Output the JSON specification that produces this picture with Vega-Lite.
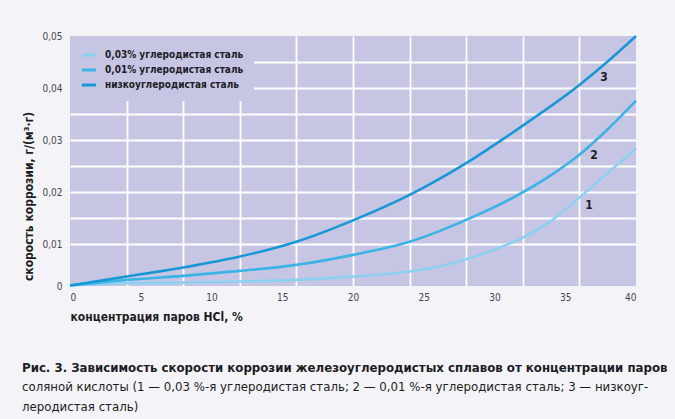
{
  "$schema": "https://vega.github.io/schema/vega-lite/v6.json",
  "autosize": "none",
  "width": 566,
  "height": 250,
  "padding": {"left": 70, "top": 36, "right": 39, "bottom": 133},
  "background": "#f4f4f8",
  "config": {
    "view": {"fill": "#c6c6e4", "stroke": null},
    "font": "DejaVu Sans Condensed"
  },
  "title": {
    "text": "Рис. 3. Зависимость скорости коррозии железоуглеродистых сплавов от концентрации паров",
    "subtitle": ["соляной кислоты (1 — 0,03 %-я углеродистая сталь; 2 — 0,01 %-я углеродистая сталь; 3 — низкоуг-", "леродистая сталь)"],
    "orient": "bottom",
    "anchor": "start",
    "frame": "group",
    "dx": -48,
    "offset": 40,
    "font": "DejaVu Sans Condensed",
    "fontSize": 13.1,
    "fontWeight": "bold",
    "color": "#1c1c24",
    "subtitleFont": "DejaVu Sans Condensed",
    "subtitleFontSize": 13.1,
    "subtitleColor": "#1c1c24",
    "subtitlePadding": 6,
    "subtitleLineHeight": 19.5
  },
  "resolve": {"axis": {"x": "independent", "y": "independent"}},
  "layer": [
    {
      "data": {
        "values": [
          {"steel": "0,03% углеродистая сталь", "c": 0, "v": 0.0021},
          {"steel": "0,03% углеродистая сталь", "c": 4, "v": 0.00254},
          {"steel": "0,03% углеродистая сталь", "c": 8, "v": 0.00265},
          {"steel": "0,03% углеродистая сталь", "c": 12, "v": 0.00285},
          {"steel": "0,03% углеродистая сталь", "c": 16, "v": 0.00317},
          {"steel": "0,03% углеродистая сталь", "c": 20, "v": 0.00381},
          {"steel": "0,03% углеродистая сталь", "c": 24, "v": 0.00477},
          {"steel": "0,03% углеродистая сталь", "c": 26, "v": 0.0057},
          {"steel": "0,03% углеродистая сталь", "c": 28, "v": 0.00715},
          {"steel": "0,03% углеродистая сталь", "c": 30, "v": 0.009},
          {"steel": "0,03% углеродистая сталь", "c": 32, "v": 0.0113},
          {"steel": "0,03% углеродистая сталь", "c": 34, "v": 0.0145},
          {"steel": "0,03% углеродистая сталь", "c": 36, "v": 0.019},
          {"steel": "0,03% углеродистая сталь", "c": 38, "v": 0.0237},
          {"steel": "0,03% углеродистая сталь", "c": 40, "v": 0.0284},
          {"steel": "0,01% углеродистая сталь", "c": 0, "v": 0.0021},
          {"steel": "0,01% углеродистая сталь", "c": 4, "v": 0.00317},
          {"steel": "0,01% углеродистая сталь", "c": 8, "v": 0.00394},
          {"steel": "0,01% углеродистая сталь", "c": 12, "v": 0.0049},
          {"steel": "0,01% углеродистая сталь", "c": 16, "v": 0.00606},
          {"steel": "0,01% углеродистая сталь", "c": 20, "v": 0.00798},
          {"steel": "0,01% углеродистая сталь", "c": 24, "v": 0.0105},
          {"steel": "0,01% углеродистая сталь", "c": 28, "v": 0.0147},
          {"steel": "0,01% углеродистая сталь", "c": 32, "v": 0.02},
          {"steel": "0,01% углеродистая сталь", "c": 34, "v": 0.0233},
          {"steel": "0,01% углеродистая сталь", "c": 36, "v": 0.0272},
          {"steel": "0,01% углеродистая сталь", "c": 38, "v": 0.0321},
          {"steel": "0,01% углеродистая сталь", "c": 40, "v": 0.0376},
          {"steel": "низкоуглеродистая сталь", "c": 0, "v": 0.0021},
          {"steel": "низкоуглеродистая сталь", "c": 4, "v": 0.00381},
          {"steel": "низкоуглеродистая сталь", "c": 8, "v": 0.00554},
          {"steel": "низкоуглеродистая сталь", "c": 12, "v": 0.00765},
          {"steel": "низкоуглеродистая сталь", "c": 16, "v": 0.0105},
          {"steel": "низкоуглеродистая сталь", "c": 20, "v": 0.0146},
          {"steel": "низкоуглеродистая сталь", "c": 24, "v": 0.0195},
          {"steel": "низкоуглеродистая сталь", "c": 28, "v": 0.0256},
          {"steel": "низкоуглеродистая сталь", "c": 32, "v": 0.0328},
          {"steel": "низкоуглеродистая сталь", "c": 36, "v": 0.0406},
          {"steel": "низкоуглеродистая сталь", "c": 38, "v": 0.0451},
          {"steel": "низкоуглеродистая сталь", "c": 40, "v": 0.05}
        ]
      },
      "mark": {"type": "line", "interpolate": "monotone", "strokeWidth": 2.6},
      "encoding": {
        "x": {
          "field": "c", "type": "quantitative",
          "scale": {"domain": [0, 40], "nice": false, "zero": false},
          "axis": {
            "orient": "bottom",
            "title": "концентрация паров HCl, %",
            "values": [0, 5, 10, 15, 20, 25, 30, 35, 40],
            "grid": false,
            "ticks": false,
            "domain": false,
            "labelFont": "DejaVu Sans Condensed",
            "labelFontSize": 10,
            "labelColor": "#45454f",
            "labelPadding": 6,
            "titleFont": "DejaVu Sans Condensed",
            "titleFontSize": 12,
            "titleFontWeight": "bold",
            "titleColor": "#1c1c24",
            "titleAnchor": "start",
            "titleAlign": "left",
            "titlePadding": 9
          }
        },
        "y": {
          "field": "v", "type": "quantitative",
          "scale": {"domain": [0.002, 0.05], "nice": false, "zero": false},
          "axis": {
            "orient": "left",
            "title": "скорость коррозии, г/(м³·г)",
            "values": [0.002, 0.01, 0.02, 0.03, 0.04, 0.05],
            "labelExpr": "datum.value < 0.005 ? '0' : replace(format(datum.value, '.2f'), '.', ',')",
            "grid": false,
            "ticks": false,
            "domain": false,
            "labelFont": "DejaVu Sans Condensed",
            "labelFontSize": 10,
            "labelColor": "#45454f",
            "labelPadding": 8,
            "titleFont": "DejaVu Sans Condensed",
            "titleFontSize": 12,
            "titleFontWeight": "bold",
            "titleColor": "#1c1c24",
            "titleY": 160,
            "titlePadding": 6
          }
        },
        "color": {
          "field": "steel", "type": "nominal",
          "scale": {
            "domain": ["0,03% углеродистая сталь", "0,01% углеродистая сталь", "низкоуглеродистая сталь"],
            "range": ["#8dd1f1", "#3ab4e6", "#1798d6"]
          },
          "legend": {
            "title": null,
            "orient": "top-left",
            "offset": 0,
            "padding": 10,
            "fillColor": "#c6c6e4",
            "symbolType": "stroke",
            "symbolStrokeWidth": 3,
            "symbolSize": 200,
            "rowPadding": -1,
            "labelFont": "DejaVu Sans Condensed",
            "labelFontSize": 10,
            "labelFontWeight": "bold",
            "labelColor": "#1c1c24",
            "labelOffset": 7
          }
        }
      }
    },
    {
      "data": {
        "values": [
          {"n": "3", "c": 37.73, "v": 0.0421},
          {"n": "2", "c": 37.04, "v": 0.0272},
          {"n": "1", "c": 36.67, "v": 0.01746}
        ]
      },
      "mark": {"type": "text", "font": "DejaVu Sans Condensed", "fontSize": 12, "fontWeight": "bold", "color": "#1c1c24"},
      "encoding": {
        "x": {
          "field": "c", "type": "quantitative",
          "axis": {
            "orient": "bottom",
            "title": null,
            "values": [4, 8, 12, 16, 20, 24, 28, 32, 36],
            "grid": true,
            "gridColor": "#ffffff",
            "gridWidth": 1.8,
            "gridOpacity": 1,
            "labels": false,
            "ticks": false,
            "domain": false
          }
        },
        "y": {
          "field": "v", "type": "quantitative",
          "axis": {
            "orient": "left",
            "title": null,
            "values": [0.01, 0.015, 0.02, 0.025, 0.03, 0.035, 0.04, 0.045],
            "grid": true,
            "gridColor": "#ffffff",
            "gridWidth": 1.8,
            "gridOpacity": 1,
            "labels": false,
            "ticks": false,
            "domain": false
          }
        },
        "text": {"field": "n"}
      }
    }
  ]
}
